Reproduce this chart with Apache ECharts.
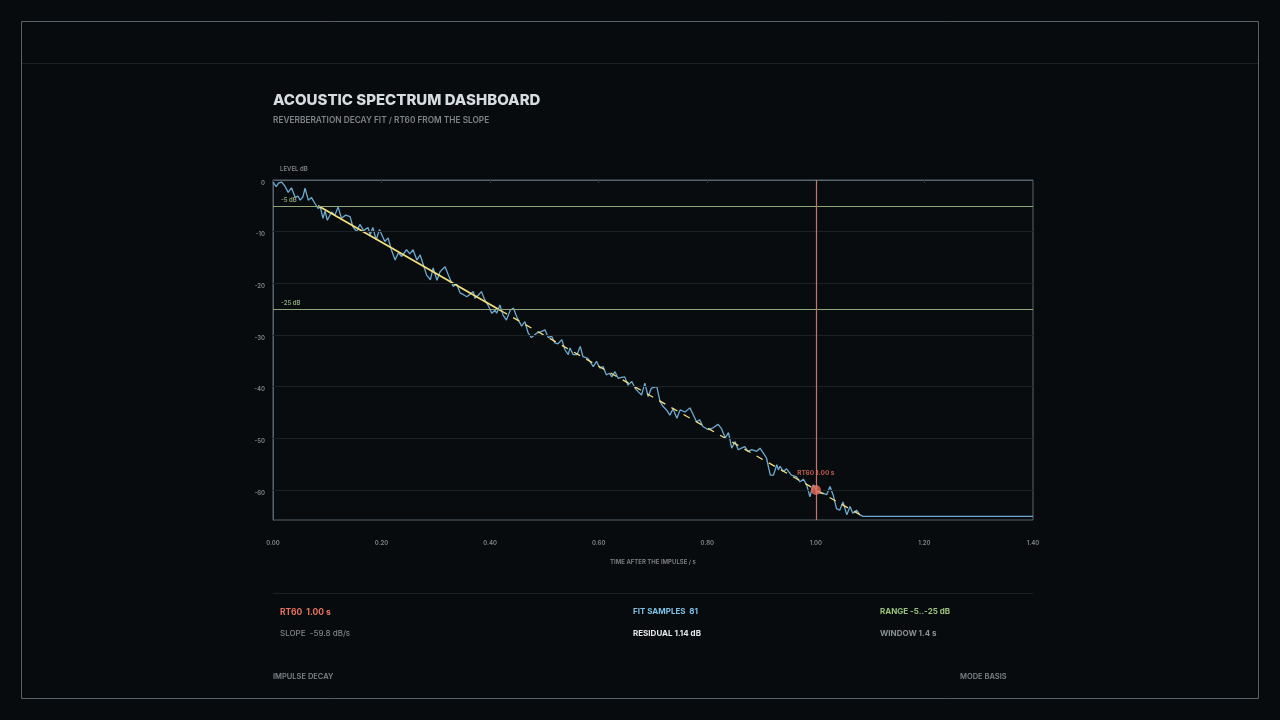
<!DOCTYPE html>
<html lang="en">
<head>
    <meta charset="UTF-8">
    <title>Acoustic spectrum dashboard</title>
    <script type="text/javascript" src="https://cdn.jsdelivr.net/npm/echarts@6/dist/echarts.min.js"></script>
    <style>
        html, body {
            width: 100%;
            height: 100%;
            margin: 0;
            padding: 0;
            background: #080b0d;
        }
        #main {
            width: 1280px;
            height: 720px;
        }
    </style>
</head>
<body>
    <div id="main"></div>
    <script>
        // decay trace (time s, level dB)
        var decayTime = [
            0.000, 0.006, 0.010, 0.016, 0.022, 0.028, 0.034, 0.041, 0.046, 0.050,
            0.055, 0.059, 0.065, 0.071, 0.077, 0.083, 0.087, 0.092, 0.096, 0.100,
            0.108, 0.114, 0.120, 0.126, 0.134, 0.142, 0.147, 0.154, 0.160, 0.167,
            0.175, 0.179, 0.184, 0.190, 0.196, 0.206, 0.212, 0.218, 0.225, 0.231,
            0.237, 0.246, 0.252, 0.258, 0.265, 0.271, 0.277, 0.283, 0.290, 0.295,
            0.302, 0.308, 0.317, 0.323, 0.332, 0.338, 0.345, 0.351, 0.357, 0.363,
            0.369, 0.372, 0.378, 0.384, 0.390, 0.396, 0.403, 0.409, 0.412, 0.418,
            0.424, 0.430, 0.437, 0.443, 0.449, 0.455, 0.458, 0.464, 0.470, 0.476,
            0.485, 0.495, 0.501, 0.507, 0.513, 0.519, 0.525, 0.532, 0.538, 0.544,
            0.547, 0.553, 0.560, 0.566, 0.571, 0.580, 0.590, 0.596, 0.602, 0.608,
            0.614, 0.620, 0.624, 0.630, 0.636, 0.642, 0.648, 0.654, 0.661, 0.667,
            0.673, 0.679, 0.685, 0.691, 0.697, 0.707, 0.713, 0.719, 0.725, 0.731,
            0.737, 0.744, 0.750, 0.759, 0.768, 0.774, 0.780, 0.786, 0.792, 0.801,
            0.810, 0.820, 0.826, 0.833, 0.839, 0.845, 0.851, 0.857, 0.863, 0.869,
            0.875, 0.882, 0.891, 0.897, 0.903, 0.909, 0.916, 0.922, 0.928, 0.931,
            0.934, 0.940, 0.946, 0.955, 0.964, 0.971, 0.977, 0.983, 0.989, 0.995,
            1.001, 1.007, 1.013, 1.020, 1.026, 1.032, 1.038, 1.044, 1.050, 1.057,
            1.063, 1.068, 1.075, 1.081, 1.087, 1.100, 1.200, 1.300, 1.400
        ];
        var decayLevel = [
            -0.4, -1.3, -0.6, -0.4, -1.2, -2.4, -1.5, -3.4, -3.1, -3.9,
            -3.3, -1.6, -3.9, -3.4, -4.5, -5.5, -5.2, -7.4, -6.0, -7.8,
            -6.2, -6.8, -5.2, -7.4, -6.8, -7.1, -9.0, -10.0, -8.6, -9.8,
            -9.2, -10.6, -9.2, -11.6, -9.6, -11.9, -11.2, -13.5, -15.5, -14.1,
            -14.8, -13.5, -14.3, -13.5, -15.5, -14.5, -16.4, -18.4, -19.3, -17.0,
            -19.4, -17.7, -16.8, -18.4, -20.6, -20.1, -21.9, -22.2, -22.6, -22.1,
            -21.6, -22.9, -22.3, -21.6, -23.2, -24.2, -25.8, -25.2, -25.8, -24.2,
            -26.2, -27.1, -25.2, -24.8, -26.5, -27.7, -28.3, -27.4, -29.6, -30.5,
            -29.7, -29.3, -29.0, -30.5, -30.2, -31.5, -31.7, -30.9, -32.9, -33.8,
            -32.5, -33.8, -33.8, -32.2, -34.2, -34.5, -36.1, -35.1, -36.4, -36.1,
            -37.7, -37.4, -38.1, -37.1, -38.4, -38.2, -38.1, -39.7, -39.0, -40.3,
            -41.0, -41.6, -39.3, -41.9, -40.3, -40.0, -42.9, -43.9, -44.5, -45.5,
            -44.3, -46.1, -44.5, -44.9, -44.1, -45.4, -46.8, -46.4, -47.7, -48.3,
            -48.0, -47.3, -48.1, -49.9, -48.9, -51.9, -50.6, -52.2, -51.9, -51.6,
            -52.5, -52.2, -52.5, -51.9, -52.8, -53.8, -57.1, -57.1, -55.1, -56.1,
            -55.4, -56.4, -55.9, -57.1, -57.4, -58.4, -57.9, -59.0, -61.3, -59.0,
            -60.0, -60.6, -60.6, -60.9, -59.3, -61.0, -63.6, -63.9, -62.3, -64.8,
            -63.2, -64.5, -63.9, -64.8, -65.1, -65.1, -65.1, -65.1, -65.1
        ];

        // linear fit: solid inside the -5..-25 dB range, dashed beyond
        var fitSolid = [[0.083, -5.0], [0.420, -25.3]];
        var fitDashed = [[0.420, -25.3], [1.090, -65.3]];
        var rt60Point = [1.00, -60.0];
        var thresholds = [-5, -25];
        var gridLevels = [-10, -20, -30, -40, -50, -60];
        var yTicks = [0, -10, -20, -30, -40, -50, -60];

        var myChart = echarts.init(document.getElementById('main'));

        var font = 'Inter, "DejaVu Sans", sans-serif';
        var decayData = decayTime.map(function (t, i) { return [t, decayLevel[i]]; });

        var option = {
            backgroundColor: '#080b0d',
            animation: false,
            grid: {
                left: 273,
                right: 247,
                top: 180,
                bottom: 200,
                show: true,
                borderColor: '#56656f',
                borderWidth: 1,
                backgroundColor: '#090c0e'
            },
            graphic: [
                { type: 'rect', shape: { x: 21.5, y: 21.5, width: 1237, height: 677 }, style: { fill: 'none', stroke: '#56616a', lineWidth: 1 }, silent: true },
                { type: 'line', shape: { x1: 22, y1: 63.5, x2: 1258, y2: 63.5 }, style: { stroke: '#1b2124', lineWidth: 1 }, silent: true },
                { type: 'line', shape: { x1: 273, y1: 593.5, x2: 1033, y2: 593.5 }, style: { stroke: '#1b2124', lineWidth: 1 }, silent: true },
                { type: 'text', x: 273, y: 100, silent: true, style: { text: 'ACOUSTIC SPECTRUM DASHBOARD', fill: '#d6dce0', font: '800 15px ' + font, textVerticalAlign: 'middle' } },
                { type: 'text', x: 273, y: 121, silent: true, style: { text: 'REVERBERATION DECAY FIT / RT60 FROM THE SLOPE', fill: '#7c8489', font: '600 8.3px ' + font, textVerticalAlign: 'middle' } },
                { type: 'text', x: 280, y: 169.5, silent: true, style: { text: 'LEVEL dB', fill: '#7c8489', font: '600 6px ' + font, textVerticalAlign: 'middle' } },
                { type: 'text', x: 280, y: 612, silent: true, style: { text: 'RT60  1.00 s', fill: '#e8735f', font: '700 8.5px ' + font, textVerticalAlign: 'middle' } },
                { type: 'text', x: 280, y: 634, silent: true, style: { text: 'SLOPE  -59.8 dB/s', fill: '#7c8489', font: '500 8px ' + font, textVerticalAlign: 'middle' } },
                { type: 'text', x: 633, y: 612, silent: true, style: { text: 'FIT SAMPLES  81', fill: '#7ec0e6', font: '700 8px ' + font, textVerticalAlign: 'middle' } },
                { type: 'text', x: 633, y: 634, silent: true, style: { text: 'RESIDUAL 1.14 dB', fill: '#e4e8ea', font: '700 8px ' + font, textVerticalAlign: 'middle' } },
                { type: 'text', x: 880, y: 612, silent: true, style: { text: 'RANGE -5..-25 dB', fill: '#98c27a', font: '700 8px ' + font, textVerticalAlign: 'middle' } },
                { type: 'text', x: 880, y: 634, silent: true, style: { text: 'WINDOW 1.4 s', fill: '#8a9196', font: '700 8px ' + font, textVerticalAlign: 'middle' } },
                { type: 'text', x: 273, y: 677, silent: true, style: { text: 'IMPULSE DECAY', fill: '#7c8489', font: '600 7.5px ' + font, textVerticalAlign: 'middle' } },
                { type: 'text', x: 960, y: 677, silent: true, style: { text: 'MODE BASIS', fill: '#7c8489', font: '600 7.5px ' + font, textVerticalAlign: 'middle' } }
            ],
            xAxis: {
                type: 'value',
                min: 0,
                max: 1.4,
                interval: 0.2,
                name: 'TIME AFTER THE IMPULSE / s',
                nameLocation: 'middle',
                nameGap: 39,
                nameTextStyle: { color: '#7c8489', fontSize: 6, fontWeight: 600, fontFamily: font },
                axisLine: { show: true, lineStyle: { color: '#56656f' } },
                axisTick: { show: true, length: 3, lineStyle: { color: '#2c363c' } },
                axisLabel: {
                    color: '#80888d', fontSize: 6, fontWeight: 600, fontFamily: font, margin: 20,
                    formatter: function (v) { return v.toFixed(2); }
                },
                splitLine: { show: false }
            },
            yAxis: {
                type: 'value',
                min: -65.8,
                max: 0,
                axisLine: { show: true, lineStyle: { color: '#56656f' } },
                axisTick: { show: false },
                axisLabel: {
                    customValues: yTicks,
                    color: '#80888d', fontSize: 6, fontWeight: 600, fontFamily: font, margin: 8,
                    verticalAlign: 'top'
                },
                splitLine: { show: false }
            },
            series: [
                {
                    name: 'grid',
                    type: 'line',
                    data: [],
                    silent: true,
                    markLine: {
                        silent: true,
                        symbol: 'none',
                        label: { show: false },
                        lineStyle: { color: '#1b2226', width: 1, type: 'solid' },
                        data: gridLevels.map(function (v) { return { yAxis: v }; })
                    }
                },
                {
                    name: 'thresholds',
                    type: 'line',
                    data: [],
                    silent: true,
                    markLine: {
                        silent: true,
                        symbol: 'none',
                        lineStyle: { color: '#8ea77a', width: 1.2, type: 'solid' },
                        label: {
                            show: true,
                            position: 'insideStartTop',
                            distance: [8, 3],
                            color: '#8ea77a',
                            fontSize: 6,
                            fontWeight: 600,
                            fontFamily: font,
                            formatter: function (p) { return p.value + ' dB'; }
                        },
                        data: thresholds.map(function (v) { return { yAxis: v }; })
                    }
                },
                {
                    name: 'rt60 line',
                    type: 'line',
                    data: [],
                    silent: true,
                    markLine: {
                        silent: true,
                        symbol: 'none',
                        label: { show: false },
                        lineStyle: { color: '#c2766e', width: 1.2, type: 'solid' },
                        data: [{ xAxis: rt60Point[0] }]
                    }
                },
                {
                    name: 'decay',
                    type: 'line',
                    data: decayData,
                    showSymbol: false,
                    z: 3,
                    lineStyle: { color: '#6caad0', width: 1.3 }
                },
                {
                    name: 'fit',
                    type: 'line',
                    data: fitSolid,
                    showSymbol: false,
                    z: 4,
                    lineStyle: { color: '#f2df7a', width: 1.8 }
                },
                {
                    name: 'fit extension',
                    type: 'line',
                    data: fitDashed,
                    showSymbol: false,
                    z: 4,
                    lineStyle: { color: '#f2df7a', width: 1.3, type: [7, 7] }
                },
                {
                    name: 'RT60',
                    type: 'scatter',
                    data: [rt60Point],
                    symbolSize: 10,
                    z: 5,
                    itemStyle: { color: '#ec6f5e' },
                    label: {
                        show: true,
                        position: 'top',
                        distance: 8,
                        formatter: 'RT60 1.00 s',
                        color: '#ec6f5e',
                        fontSize: 6.5,
                        fontWeight: 700,
                        fontFamily: font
                    }
                }
            ]
        };
        myChart.setOption(option);

        window.addEventListener('resize', function () {
            myChart.resize();
        });
    </script>
</body>
</html>
